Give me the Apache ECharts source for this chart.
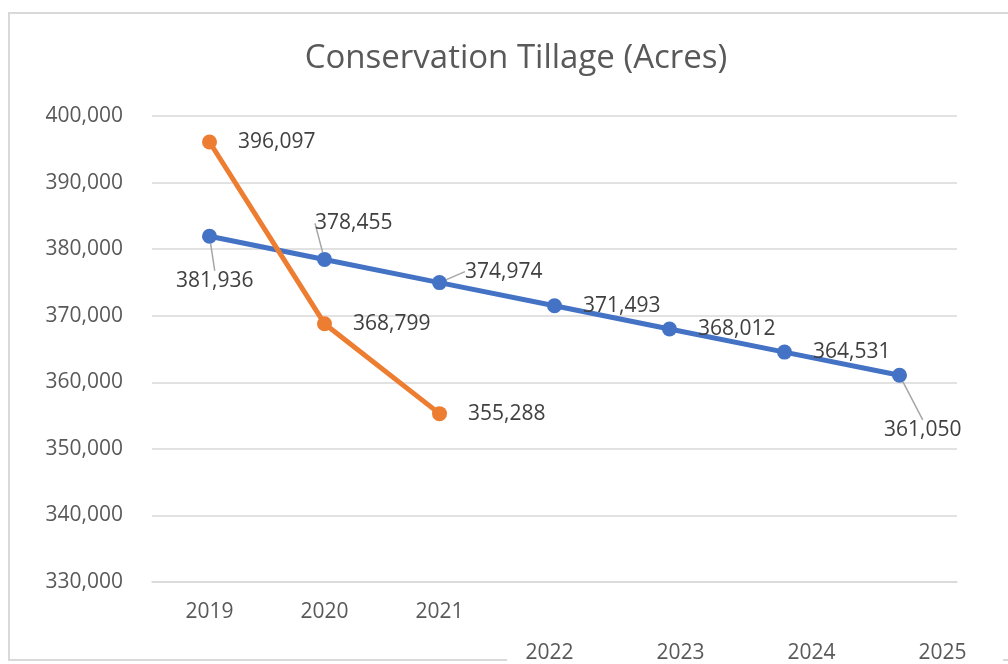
<!DOCTYPE html>
<html>
<head>
<meta charset="utf-8">
<script src="https://cdn.jsdelivr.net/npm/echarts@6/dist/echarts.min.js"></script>
<style>html,body{margin:0;padding:0;background:#fff;}#c{width:1008px;height:664px;}</style>
</head>
<body>
<div id="c"></div>
<script>
const titleText = 'Conservation Tillage (Acres)';
const years = ['2019', '2020', '2021', '2022', '2023', '2024', '2025'];
const projectedValues = [381936, 378455, 374974, 371493, 368012, 364531, 361050];
const actualValues = [396097, 368799, 355288];
const yMin = 330000;
const yMax = 400000;
const yStep = 10000;
const upperYearCount = 3;
const upperYears = years.slice(0, upperYearCount);
const lowerYears = years.slice(upperYearCount);

const fontFam = '"Open Sans", "Noto Sans", sans-serif';
const fmt = v => Number(v).toLocaleString('en-US');

// label offsets (relative moves) for callout labels of projected series
const projectedMoves = {0: [-62, 45], 1: [-38, -36], 2: [-3, -11], 6: [-44, 55]};

const projectedData = projectedValues.map((v, i) => projectedMoves[i]
  ? {value: v, labelLine: {show: true}}
  : {value: v});

const chart = echarts.init(document.getElementById('c'), null, {renderer: 'canvas'});
const borderColor = '#d9d9d9';
chart.setOption({
  backgroundColor: '#ffffff',
  animation: false,
  title: {
    text: titleText,
    left: 511,
    top: 37,
    textAlign: 'center',
    textStyle: {color: '#595959', fontSize: 33, fontWeight: 'normal', fontFamily: fontFam}
  },
  graphic: [
    {type: 'line', shape: {x1: 8, y1: 13, x2: 1008, y2: 13}, style: {stroke: borderColor, lineWidth: 2}, silent: true},
    {type: 'line', shape: {x1: 9, y1: 12, x2: 9, y2: 661}, style: {stroke: borderColor, lineWidth: 2}, silent: true},
    {type: 'line', shape: {x1: 8, y1: 660, x2: 507, y2: 660}, style: {stroke: borderColor, lineWidth: 2}, silent: true},
    {type: 'line', shape: {x1: 1003, y1: 660, x2: 1008, y2: 660}, style: {stroke: borderColor, lineWidth: 2}, silent: true}
  ],
  grid: [
    {left: 152, right: 51, top: 116, bottom: 82, containLabel: false},
    {left: 484, width: 530, top: 600, height: 30, containLabel: false}
  ],
  xAxis: [
    {
      type: 'category',
      gridIndex: 0,
      data: years,
      boundaryGap: true,
      axisLine: {show: true, lineStyle: {color: borderColor, width: 1.5}},
      axisTick: {show: false},
      axisLabel: {
        color: '#595959', fontSize: 21, fontFamily: fontFam, margin: 20,
        interval: 0,
        formatter: (v) => upperYears.indexOf(v) >= 0 ? v : ''
      }
    },
    {
      type: 'category',
      gridIndex: 1,
      data: lowerYears,
      boundaryGap: true,
      axisLine: {show: false},
      axisTick: {show: false},
      axisLabel: {color: '#595959', fontSize: 21, fontFamily: fontFam, margin: 14, interval: 0}
    }
  ],
  yAxis: [
    {
      type: 'value',
      gridIndex: 0,
      min: yMin,
      max: yMax,
      interval: yStep,
      axisLine: {show: false},
      axisTick: {show: false},
      splitLine: {show: true, lineStyle: {color: borderColor, width: 1.5}},
      axisLabel: {color: '#595959', fontSize: 21, fontFamily: fontFam, margin: 29, formatter: fmt}
    },
    {type: 'value', gridIndex: 1, show: false}
  ],
  series: [
    {
      name: 'Projected',
      type: 'line',
      xAxisIndex: 0, yAxisIndex: 0,
      data: projectedData,
      symbol: 'circle',
      symbolSize: 15,
      lineStyle: {color: '#4472C4', width: 5},
      itemStyle: {color: '#4472C4'},
      label: {
        show: true, position: 'right', distance: 21,
        color: '#404040', fontSize: 21, fontFamily: fontFam,
        formatter: p => fmt(p.value)
      },
      labelLine: {show: false, lineStyle: {color: '#a6a6a6', width: 1.5}},
      labelLayout: function (params) {
        const m = projectedMoves[params.dataIndex];
        return m ? {dx: m[0], dy: m[1]} : {};
      },
      z: 2
    },
    {
      name: 'Actual',
      type: 'line',
      xAxisIndex: 0, yAxisIndex: 0,
      data: actualValues,
      symbol: 'circle',
      symbolSize: 15,
      lineStyle: {color: '#ED7D31', width: 5},
      itemStyle: {color: '#ED7D31'},
      label: {
        show: true, position: 'right', distance: 21,
        color: '#404040', fontSize: 21, fontFamily: fontFam,
        formatter: p => fmt(p.value)
      },
      z: 3
    }
  ]
});
</script>
</body>
</html>
